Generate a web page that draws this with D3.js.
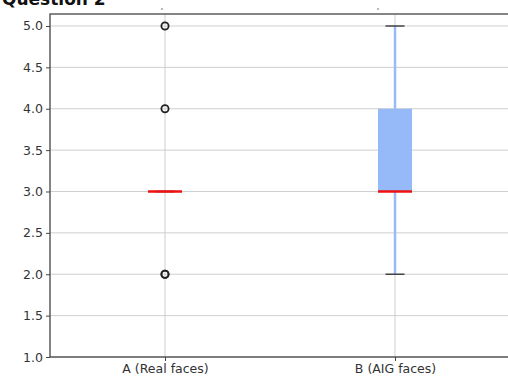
<!DOCTYPE html>
<html>
<head>
<meta charset="utf-8">
<script src="https://cdn.jsdelivr.net/npm/d3@7"></script>
<style>
  html, body { margin: 0; padding: 0; background: #fff; overflow: hidden; }
  svg { display: block; font-family: "DejaVu Sans", sans-serif; }
</style>
</head>
<body>
<svg id="chart" width="508" height="379"></svg>
<script>
// Box-plot summaries of the ratings for each group
const categories = ["A (Real faces)", "B (AIG faces)"];
const medians    = [3, 3];
const q1         = [3, 3];
const q3         = [3, 4];
const whiskerLo  = [3, 2];
const whiskerHi  = [3, 5];
const outliers   = [[2, 2, 4, 5], []];
const yTicks     = [1.0, 1.5, 2.0, 2.5, 3.0, 3.5, 4.0, 4.5, 5.0];
const title      = "Question 2";

const svg = d3.select("#chart");
const margin = { left: 50, top: 14, right: -2, bottom: 22 };
const W = 508, H = 379;
const plotW = W - margin.left - margin.right;
const plotH = H - margin.top - margin.bottom;

const x = d3.scaleLinear().domain([0.5, categories.length + 0.5]).range([margin.left, margin.left + plotW]);
const y = d3.scaleLinear().domain([1.0, 5.145]).range([margin.top + plotH, margin.top]);

// Title
svg.append("text")
  .attr("x", 2).attr("y", 4.5)
  .attr("font-size", 17).attr("font-weight", "bold").attr("fill", "#111")
  .text(title);

// small remnants of the axes header line above the frame
svg.selectAll(".hdr").data([162, 378]).join("circle")
  .attr("cx", d => d).attr("cy", 9).attr("r", 0.9).attr("fill", "#999");

// Grid
const grid = svg.append("g");
grid.selectAll(".gy").data(yTicks).join("line")
  .attr("x1", margin.left).attr("x2", margin.left + plotW)
  .attr("y1", d => y(d)).attr("y2", d => y(d))
  .attr("stroke", "#cfcfcf").attr("stroke-width", 1);
grid.selectAll(".gx").data(categories).join("line")
  .attr("x1", (d, i) => x(i + 1)).attr("x2", (d, i) => x(i + 1))
  .attr("y1", margin.top).attr("y2", margin.top + plotH)
  .attr("stroke", "#cfcfcf").attr("stroke-width", 1);

// Axes
const yAxis = d3.axisLeft(y).tickValues(yTicks).tickFormat(d3.format(".1f")).tickSize(4).tickPadding(3);
const xAxis = d3.axisBottom(x).tickValues(categories.map((d, i) => i + 1))
  .tickFormat((d) => categories[d - 1]).tickSize(4).tickPadding(3);

const gy = svg.append("g").attr("transform", `translate(${margin.left},0)`).call(yAxis);
const gx = svg.append("g").attr("transform", `translate(0,${margin.top + plotH})`).call(xAxis);
[gy, gx].forEach(g => {
  g.select(".domain").remove();
  g.selectAll(".tick line").attr("stroke", "#444").attr("stroke-width", 1);
  g.selectAll(".tick text").attr("font-size", 12.5).attr("fill", "#333")
    .attr("font-family", "DejaVu Sans, sans-serif");
});

// Frame
svg.append("rect")
  .attr("x", margin.left).attr("y", margin.top)
  .attr("width", plotW).attr("height", plotH)
  .attr("fill", "none").attr("stroke", "#444").attr("stroke-width", 1.3);

// Boxes
const boxW = 34, capW = 19;
const boxes = svg.append("g");
categories.forEach((c, i) => {
  const cx = x(i + 1);
  const g = boxes.append("g");
  // whiskers
  g.append("line").attr("x1", cx).attr("x2", cx).attr("y1", y(q3[i])).attr("y2", y(whiskerHi[i]))
    .attr("stroke", "#99baf7").attr("stroke-width", 2.5);
  g.append("line").attr("x1", cx).attr("x2", cx).attr("y1", y(q1[i])).attr("y2", y(whiskerLo[i]))
    .attr("stroke", "#99baf7").attr("stroke-width", 2.5);
  // box
  g.append("rect").attr("x", cx - boxW / 2).attr("y", y(q3[i]))
    .attr("width", boxW).attr("height", Math.max(0, y(q1[i]) - y(q3[i])))
    .attr("fill", "#96b9f8").attr("stroke", "none");
  // caps
  [whiskerLo[i], whiskerHi[i]].forEach(v => {
    g.append("line").attr("x1", cx - capW / 2).attr("x2", cx + capW / 2)
      .attr("y1", y(v)).attr("y2", y(v)).attr("stroke", "#444").attr("stroke-width", 1.5);
  });
  // median
  g.append("line").attr("x1", cx - boxW / 2).attr("x2", cx + boxW / 2)
    .attr("y1", y(medians[i])).attr("y2", y(medians[i]))
    .attr("stroke", "#ee1111").attr("stroke-width", 2.5);
  // outliers
  g.selectAll("circle").data(outliers[i]).join("circle")
    .attr("cx", cx).attr("cy", d => y(d)).attr("r", 3.6)
    .attr("fill", "none").attr("stroke", "#222").attr("stroke-width", 1.8);
});
</script>
</body>
</html>
